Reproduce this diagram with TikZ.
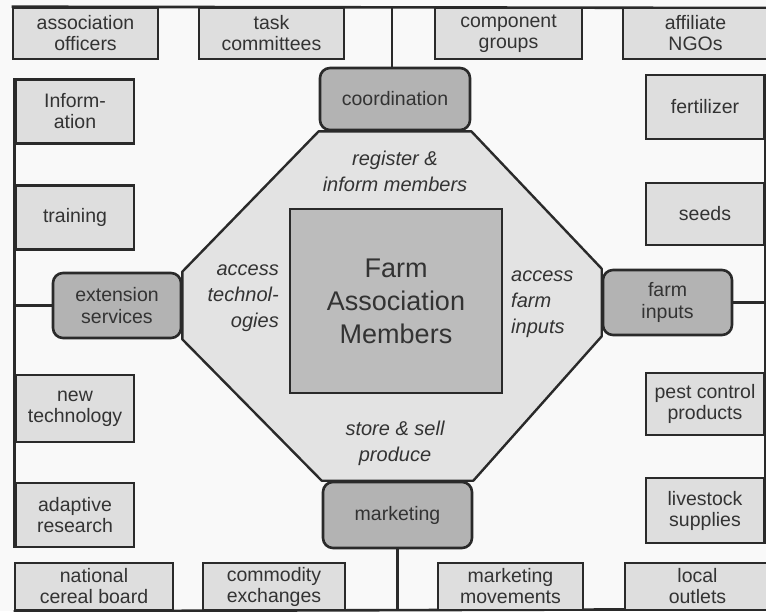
\documentclass[tikz,border=0pt]{standalone}
\usepackage{fontspec}
\setmainfont{Liberation Sans}
\usetikzlibrary{backgrounds}
\definecolor{linec}{HTML}{2A2A2A}
\definecolor{boxfill}{HTML}{DEDEDE}
\definecolor{hubfill}{HTML}{B3B3B3}
\definecolor{octfill}{HTML}{E3E3E3}
\definecolor{sqfill}{HTML}{BCBCBC}
\definecolor{txt}{HTML}{333333}
\definecolor{bgc}{HTML}{F9F9F9}
\begin{document}
\begin{tikzpicture}[x=1pt,y=-1pt,
  box/.style={draw=linec, line width=2.6pt, fill=boxfill, text=txt, align=center,
    font=\fontsize{19.5}{21}\selectfont, inner sep=0pt},
  hub/.style={draw=linec, line width=2.6pt, fill=hubfill, rounded corners=10pt, text=txt,
    align=center, font=\fontsize{19.5}{22}\selectfont, inner sep=0pt},
  conn/.style={draw=linec, line width=2.6pt},
  lab/.style={text=txt, font=\fontsize{20}{26}\selectfont\itshape, inner sep=0pt},
  hbox/.style={box, minimum width=145pt, minimum height=51pt},
  vbox/.style={box, minimum width=118pt, minimum height=64pt},
  bbox/.style={box, minimum height=47pt}
]
\useasboundingbox (0,0) rectangle (766,611);
% top row
\node[hbox] (assoc) at (85.5,33.5) {association\\officers};
\node[hbox] (task) at (271.5,33.5) {task\\committees};
\node[hbox, minimum width=147pt] (comp) at (508.5,33.5) {component\\groups};
\node[hbox] (ngo) at (695.5,33.5) {affiliate\\NGOs};
% left column
\node[vbox] (info) at (75,111.5) {Inform-\\ation};
\node[vbox] (train) at (75,217.5) {training};
\node[vbox, minimum height=67pt] (newtech) at (75,408.5) {new\\technology};
\node[vbox] (adapt) at (75,515) {adaptive\\research};
% right column
\node[vbox] (fert) at (705,107) {fertilizer};
\node[vbox, minimum height=62pt] (seeds) at (705,214) {seeds};
\node[vbox, minimum height=62pt] (pest) at (705,404) {pest control\\products};
\node[vbox, minimum height=65pt] (live) at (705,510.5) {livestock\\supplies};
% bottom row
\node[bbox, minimum width=158pt] (natl) at (94,586.5) {national\\cereal board};
\node[bbox, minimum width=142pt] (commod) at (274,586.5) {commodity\\exchanges};
\node[bbox, minimum width=145pt] (mmov) at (510.5,586.5) {marketing\\movements};
\node[bbox, minimum width=145pt] (local) at (697.5,586.5) {local\\outlets};
% hubs
\node[hub, minimum width=150pt, minimum height=62pt] (coord) at (395,99) {coordination};
\node[hub, minimum width=128pt, minimum height=65pt] (ext) at (117,305.5) {extension\\services};
\node[hub, minimum width=129pt, minimum height=65pt] (farm) at (667.5,302.5) {farm\\inputs};
\node[hub, minimum width=149pt, minimum height=66pt] (market) at (397.5,515) {marketing};
% centre
\node[draw=linec, line width=2.6pt, fill=sqfill, text=txt, align=center,
  minimum width=212pt, minimum height=184pt, inner sep=0pt,
  font=\fontsize{27}{33}\selectfont] (members) at (396,301) {Farm\\Association\\Members};
% labels
\node[lab, align=center] (reg) at (395,171) {register \&\\inform members};
\node[lab, align=right, anchor=east] (acctech) at (279,298) {access\\technol-\\ogies};
\node[lab, align=left, anchor=west] (accfarm) at (511,304) {access\\farm\\inputs};
\node[lab, align=center] (store) at (395,443) {store \& sell\\produce};
% frame coordinates
\coordinate (topR) at (772,8);
\coordinate (botR) at (772,609);
\begin{pgfonlayer}{background}
  \fill[bgc] (0,0) rectangle (766,611);
  \filldraw[fill=octfill, draw=linec, line width=2.4pt, line join=round]
    (coord.south west) -- (coord.south east) -- (farm.north west) -- (farm.south west)
    -- (market.north east) -- (market.north west) -- (ext.south east) -- (ext.north east) -- cycle;
  \draw[conn] (assoc.north west) -- (topR);
  \draw[conn] (natl.south west) -- (botR);
  \draw[conn] (info.north west) -- (adapt.south west);
  \draw[conn] (fert.north east) -- (live.south east);
  \draw[conn] ([xshift=-3pt]coord.north) -- ([xshift=-3pt]coord.north |- topR);
  \draw[conn] (market.south) -- (market.south |- botR);
  \draw[conn] (ext.west) -- (ext.west -| info.west);
  \draw[conn] (farm.east) -- (farm.east -| fert.east);
\end{pgfonlayer}
\end{tikzpicture}
\end{document}
